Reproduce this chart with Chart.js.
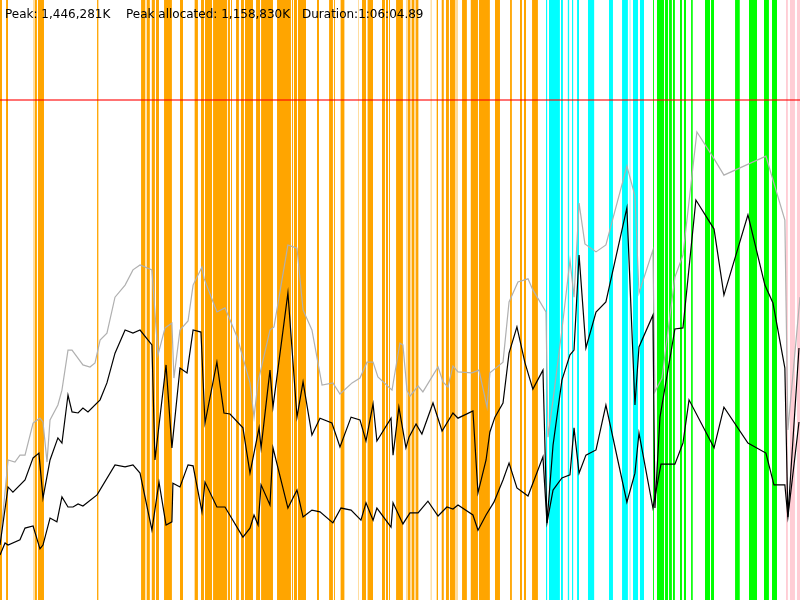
<!DOCTYPE html>
<html><head><meta charset="utf-8">
<script src="https://cdn.jsdelivr.net/npm/chart.js@4/dist/chart.umd.min.js"></script>
<style>html,body{margin:0;padding:0;background:#fff}#c{display:block}</style>
</head><body>
<canvas id="c" width="800" height="600"></canvas>
<script>
// ---- data (time in seconds, memory in MB = thousands of K) ----
const durationSec = 3965;
const peakMB = 1446.281;
const yMaxMB = 1735.6;
const headerTexts = ['Peak: 1,446,281K', 'Peak allocated: 1,158,830K', 'Duration:1:06:04.89'];

const grayT = [0,40,74,99,124,164,198,213,233,248,287,307,337,357,411,446,471,496,530,570,620,659,694,753,783,818,852,862,892,932,957,1001,1011,1075,1115,1175,1239,1259,1279,1338,1358,1427,1472,1502,1546,1596,1650,1685,1745,1784,1819,1849,1873,1943,1982,1997,2017,2032,2072,2096,2171,2196,2220,2245,2270,2339,2374,2414,2428,2493,2523,2567,2617,2641,2706,2716,2741,2785,2825,2845,2870,2899,2954,3003,3107,3147,3167,3236,3246,3281,3345,3385,3454,3534,3588,3796,3890,3905,3965];
const grayV = [159,405,399,419,419,512,526,515,399,521,564,607,723,723,680,674,686,752,772,876,911,955,969,955,709,787,801,642,781,807,911,963,931,833,845,761,628,529,631,781,790,1027,1018,839,781,622,628,596,628,642,688,688,645,607,743,738,607,590,619,602,674,631,616,677,660,657,665,558,657,688,862,920,929,897,833,471,579,781,983,876,1148,1030,1007,1027,1255,1169,888,1012,602,642,934,998,1354,1281,1229,1284,1099,492,876];

const upperT = [0,40,64,124,164,193,213,248,287,307,337,357,387,411,436,496,530,570,620,659,694,753,768,823,852,892,927,957,996,1016,1075,1110,1140,1204,1239,1284,1294,1338,1353,1427,1472,1502,1546,1586,1645,1685,1740,1784,1814,1849,1868,1938,1948,1977,2012,2027,2062,2091,2146,2191,2245,2270,2344,2369,2409,2428,2453,2493,2523,2562,2602,2641,2691,2711,2741,2785,2825,2845,2870,2904,2954,3003,3107,3147,3167,3236,3246,3271,3345,3385,3449,3539,3588,3707,3791,3831,3890,3905,3960];
const upperV = [159,327,312,347,411,425,295,405,469,454,593,544,541,555,544,579,628,714,781,772,781,738,405,680,440,671,657,781,775,512,688,541,538,498,367,498,440,665,558,888,529,631,477,526,512,443,529,521,460,567,460,526,419,558,440,471,509,480,570,489,541,526,547,310,405,486,529,570,714,790,686,610,665,223,448,636,709,723,998,729,833,862,1134,564,732,824,266,529,784,787,1157,1073,882,1114,911,859,671,240,729];

const lowerT = [0,25,40,99,124,164,198,213,248,282,307,337,362,387,411,481,570,620,659,694,753,788,823,852,857,892,932,957,1001,1016,1075,1115,1204,1239,1259,1279,1294,1338,1353,1427,1472,1502,1546,1586,1650,1690,1740,1789,1814,1849,1868,1938,1948,1997,2032,2072,2121,2171,2215,2245,2270,2344,2369,2409,2448,2493,2523,2562,2617,2691,2711,2741,2785,2825,2845,2870,2904,2954,3003,3107,3147,3167,3236,3276,3345,3385,3415,3539,3588,3707,3796,3836,3890,3905,3960];
const lowerV = [130,165,159,174,208,214,148,159,237,226,298,269,269,278,272,304,391,385,391,367,202,341,217,226,338,327,391,388,255,341,269,269,182,208,246,217,333,275,440,266,318,240,260,255,223,266,260,231,281,231,266,211,281,220,252,252,286,243,269,263,275,246,202,246,283,347,396,324,301,414,223,318,353,362,498,367,419,434,564,283,367,483,266,393,393,454,579,440,558,454,425,333,333,240,515];

// activity intervals [start, end] in seconds
const orangeBands = [[0,10],[30,40],[173,183],[188,218],[481,486],[699,721],[726,743],[751,768],[773,788],[813,852],[892,907],[966,981],[996,1011],[1016,1051],[1056,1125],[1128,1140],[1145,1150],[1170,1184],[1194,1209],[1214,1254],[1269,1289],[1294,1353],[1373,1442],[1447,1452],[1457,1472],[1477,1517],[1571,1581],[1631,1650],[1655,1660],[1690,1705],[1794,1814],[1824,1849],[1893,1908],[1913,1923],[1928,1933],[1963,1997],[2022,2032],[2042,2052],[2062,2072],[2134,2139],[2163,2171],[2188,2200],[2210,2225],[2230,2255],[2290,2314],[2332,2369],[2374,2428],[2453,2478],[2528,2537],[2577,2587],[2597,2607],[2637,2666]];
const paleOrangeBands = [[164,173],[486,491],[721,726],[961,966],[1685,1690],[1705,1710],[1774,1779],[1819,1824],[2012,2022],[2032,2042],[2052,2062],[2072,2077],[2255,2270]];
const cyanBands = [[2706,2713],[2721,2775],[2780,2790],[2813,2822],[2835,2842],[2860,2870],[2914,2946],[3018,3038],[3083,3112],[3120,3125],[3137,3162],[3172,3192]];
const greenBands = [[3236,3241],[3256,3291],[3296,3311],[3316,3330],[3335,3345],[3370,3380],[3390,3400],[3425,3434],[3494,3519],[3524,3539],[3643,3667],[3712,3752],[3786,3811],[3826,3851]];
const pinkBands = [[3895,3905],[3915,3940],[3950,3965]];

// ---- build datasets ----
function series(T, V) { return T.map((t, i) => ({x: t, y: V[i]})); }
function bandPoints(bands) {
  const pts = [];
  for (const [s, e] of bands) { pts.push({x: s, y: yMaxMB}, {x: e, y: yMaxMB}, {x: e, y: null}); }
  return pts;
}
function bandDataset(bands, color, order) {
  return {data: bandPoints(bands), borderColor: 'transparent', borderWidth: 0, backgroundColor: color,
    fill: 'origin', pointRadius: 0, spanGaps: false, order: order};
}
function lineDataset(T, V, color, width, order) {
  return {data: series(T, V), borderColor: color, borderWidth: width, fill: false, pointRadius: 0, order: order};
}

const headerPlugin = {
  id: 'header',
  afterDraw(chart) {
    const ctx = chart.ctx;
    const xs = [5, 126, 302];
    ctx.save();
    ctx.font = '12px "DejaVu Sans", sans-serif';
    ctx.fillStyle = '#000';
    ctx.textBaseline = 'alphabetic';
    headerTexts.forEach((t, i) => ctx.fillText(t, xs[i], 17.5));
    ctx.restore();
  }
};

new Chart(document.getElementById('c'), {
  type: 'line',
  data: {
    datasets: [
      {data: [{x: 0, y: peakMB}, {x: durationSec, y: peakMB}], borderColor: 'rgba(255,0,0,0.55)', borderWidth: 2, pointRadius: 0, fill: false, order: 0},
      lineDataset(upperT, upperV, '#000', 1.2, 1),
      lineDataset(lowerT, lowerV, '#000', 1.2, 2),
      lineDataset(grayT, grayV, '#b0b0b0', 1.2, 3),
      bandDataset(orangeBands, '#ffa500', 10),
      bandDataset(paleOrangeBands, 'rgba(255,165,0,0.4)', 11),
      bandDataset(cyanBands, '#00ffff', 12),
      bandDataset(greenBands, '#00ff00', 13),
      bandDataset(pinkBands, 'rgba(255,192,203,0.8)', 14)
    ]
  },
  options: {
    responsive: false,
    animation: false,
    layout: {padding: 0},
    elements: {line: {tension: 0}},
    scales: {
      x: {type: 'linear', min: 0, max: durationSec, display: false},
      y: {type: 'linear', min: 0, max: yMaxMB, display: false}
    },
    plugins: {legend: {display: false}, tooltip: {enabled: false}, title: {display: false}}
  },
  plugins: [headerPlugin]
});
</script>
</body></html>
